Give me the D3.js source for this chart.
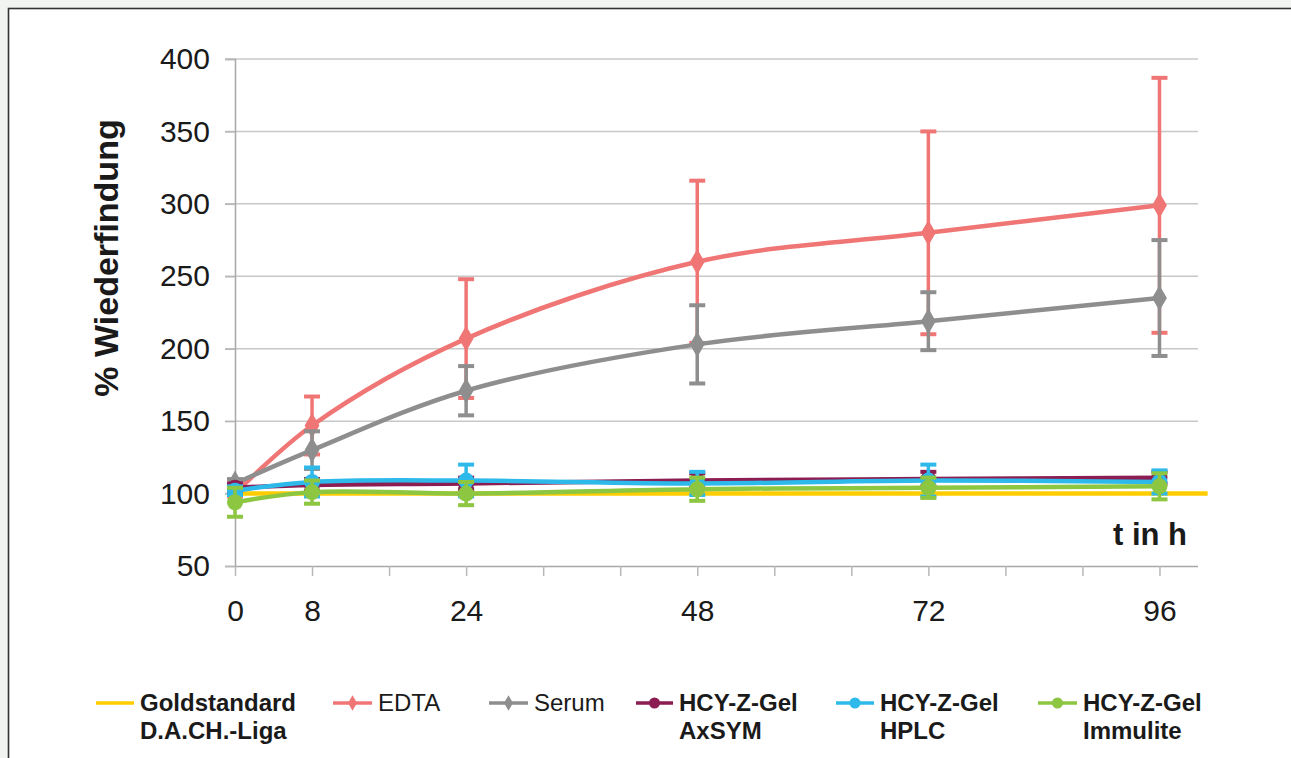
<!DOCTYPE html>
<html><head><meta charset="utf-8">
<script src="https://cdn.jsdelivr.net/npm/d3@7/dist/d3.min.js"></script>
<style>
html,body{margin:0;padding:0;background:#f2f4f2;}
svg{display:block;}
</style></head>
<body>
<svg id="chart" width="1291" height="758"></svg>
<script>
// ---- data ----
const hours = [0, 8, 24, 48, 72, 96];
const edta = [100, 147, 207, 260, 280, 299];
const edtaErr = [2, 20, 41, 56, 70, 88];
const serum = [107, 130, 171, 203, 219, 235];
const serumErr = [3, 13, 17, 27, 20, 40];
const axsym = [104, 106, 107, 109, 110, 111];
const axsymErr = [3, 4, 4, 5, 5, 4];
const hplc = [102, 108, 109, 107, 109, 108];
const hplcErr = [3, 10, 11, 8, 11, 8];
const immulite = [94, 101, 100, 103, 104, 105];
const immuliteErr = [10, 8, 8, 8, 7, 9];
const goldX = [-0.7, 101];
const goldY = [100, 100];
const xTickValues = [0, 8, 16, 24, 32, 40, 48, 56, 64, 72, 80, 88, 96];
const xTickLabels = [0, 8, 24, 48, 72, 96];
const yTickValues = [50, 100, 150, 200, 250, 300, 350, 400];

const series = [
  {name: ["Goldstandard", "D.A.CH.-Liga"], bold: true, color: "#ffcc00", xs: goldX, ys: goldY, err: null, marker: "none"},
  {name: ["EDTA"], bold: false, color: "#f07676", xs: hours, ys: edta, err: edtaErr, marker: "diamond"},
  {name: ["Serum"], bold: false, color: "#8e8e8e", xs: hours, ys: serum, err: serumErr, marker: "diamond"},
  {name: ["HCY-Z-Gel", "AxSYM"], bold: true, color: "#8b1d52", xs: hours, ys: axsym, err: axsymErr, marker: "circle"},
  {name: ["HCY-Z-Gel", "HPLC"], bold: true, color: "#2db9ea", xs: hours, ys: hplc, err: hplcErr, marker: "circle"},
  {name: ["HCY-Z-Gel", "Immulite"], bold: true, color: "#8dc641", xs: hours, ys: immulite, err: immuliteErr, marker: "circle"}
];

const svg = d3.select("#chart");
const font = "'Liberation Sans', Arial, sans-serif";

// frame
svg.append("rect").attr("x", 8.5).attr("y", 8.5).attr("width", 1300).attr("height", 800)
  .attr("fill", "#fff").attr("stroke", "#333").attr("stroke-width", 1.6);

const x = d3.scaleLinear().domain([0, 100]).range([235, 1198]);
const y = d3.scaleLinear().domain([50, 400]).range([566, 59]);

// gridlines
svg.append("g").selectAll("line").data(yTickValues.slice(1)).join("line")
  .attr("x1", 225).attr("x2", 1198).attr("y1", d => y(d)).attr("y2", d => y(d))
  .attr("stroke", "#c8c8c8").attr("stroke-width", 1.5);

// y axis
const yAxis = svg.append("g").attr("transform", "translate(235,0)")
  .call(d3.axisLeft(y).tickValues(yTickValues).tickSize(10).tickPadding(15));
yAxis.select(".domain").attr("stroke", "#a8a8a8").attr("stroke-width", 1.5);
yAxis.selectAll(".tick line").attr("stroke", "#b8b8b8").attr("stroke-width", 1.5);
yAxis.selectAll(".tick text").attr("font-family", font).attr("font-size", 30).attr("fill", "#1a1a1a");

// x axis
const xAxis = svg.append("g").attr("transform", "translate(0,566)")
  .call(d3.axisBottom(x).tickValues(xTickValues).tickSize(10).tickPadding(24)
    .tickFormat(d => xTickLabels.includes(d) ? d : ""));
xAxis.select(".domain").attr("stroke", "#a8a8a8").attr("stroke-width", 1.5).attr("d", "M235,0.5H1198");
xAxis.selectAll(".tick line").attr("stroke", "#b8b8b8").attr("stroke-width", 1.5);
xAxis.selectAll(".tick text").attr("font-family", font).attr("font-size", 30).attr("fill", "#1a1a1a");

// y label
svg.append("text").attr("transform", "translate(118,258) rotate(-90)")
  .attr("text-anchor", "middle").attr("font-family", font).attr("font-weight", "bold")
  .attr("font-size", 34).attr("fill", "#1a1a1a").text("% Wiederfindung");

// x label
svg.append("text").attr("x", 1187).attr("y", 545).attr("text-anchor", "end")
  .attr("font-family", font).attr("font-weight", "bold").attr("font-size", 31)
  .attr("fill", "#1a1a1a").text("t in h");

const line = d3.line().x(d => x(d[0])).y(d => y(d[1])).curve(d3.curveCatmullRom.alpha(0.5));
const diamond = d3.symbol().type(d3.symbolDiamond).size(190);

series.forEach(s => {
  const g = svg.append("g");
  const pts = s.xs.map((v, i) => [v, s.ys[i]]);
  g.append("path").attr("d", line(pts)).attr("fill", "none")
    .attr("stroke", s.color).attr("stroke-width", 4.5).attr("stroke-linejoin", "round");
  if (s.err) {
    pts.forEach((p, i) => {
      const e = s.err[i];
      const cx = x(p[0]);
      const y1 = y(p[1] - e), y2 = y(p[1] + e);
      g.append("line").attr("x1", cx).attr("x2", cx).attr("y1", y1).attr("y2", y2)
        .attr("stroke", s.color).attr("stroke-width", 3.5);
      [y1, y2].forEach(yy => g.append("line").attr("x1", cx - 8).attr("x2", cx + 8)
        .attr("y1", yy).attr("y2", yy).attr("stroke", s.color).attr("stroke-width", 4));
    });
  }
  if (s.marker === "diamond") {
    g.selectAll("path.m").data(pts).join("path").attr("class", "m")
      .attr("d", diamond).attr("transform", d => `translate(${x(d[0])},${y(d[1])})`)
      .attr("fill", s.color);
  } else if (s.marker === "circle") {
    g.selectAll("circle").data(pts).join("circle")
      .attr("cx", d => x(d[0])).attr("cy", d => y(d[1])).attr("r", 8).attr("fill", s.color);
  }
});

// legend
const legX = [96, 333, 489, 636, 836, 1038];
const legW = [38, 39, 39, 37, 38, 39];
series.forEach((s, i) => {
  const g = svg.append("g");
  const x0 = legX[i], x1 = legX[i] + legW[i];
  g.append("line").attr("x1", x0).attr("x2", x1).attr("y1", 703).attr("y2", 703)
    .attr("stroke", s.color).attr("stroke-width", 3.5);
  const mx = (x0 + x1) / 2;
  if (s.marker === "diamond") {
    g.append("path").attr("d", d3.symbol().type(d3.symbolDiamond).size(70)())
      .attr("transform", `translate(${mx},703)`).attr("fill", s.color);
  } else if (s.marker === "circle") {
    g.append("circle").attr("cx", mx).attr("cy", 703).attr("r", 5.5).attr("fill", s.color);
  }
  s.name.forEach((t, j) => {
    g.append("text").attr("x", x1 + 6).attr("y", 711 + j * 28)
      .attr("font-family", font).attr("font-weight", s.bold ? "bold" : "normal")
      .attr("font-size", 24).attr("fill", "#1a1a1a").text(t);
  });
});
</script>
</body></html>
